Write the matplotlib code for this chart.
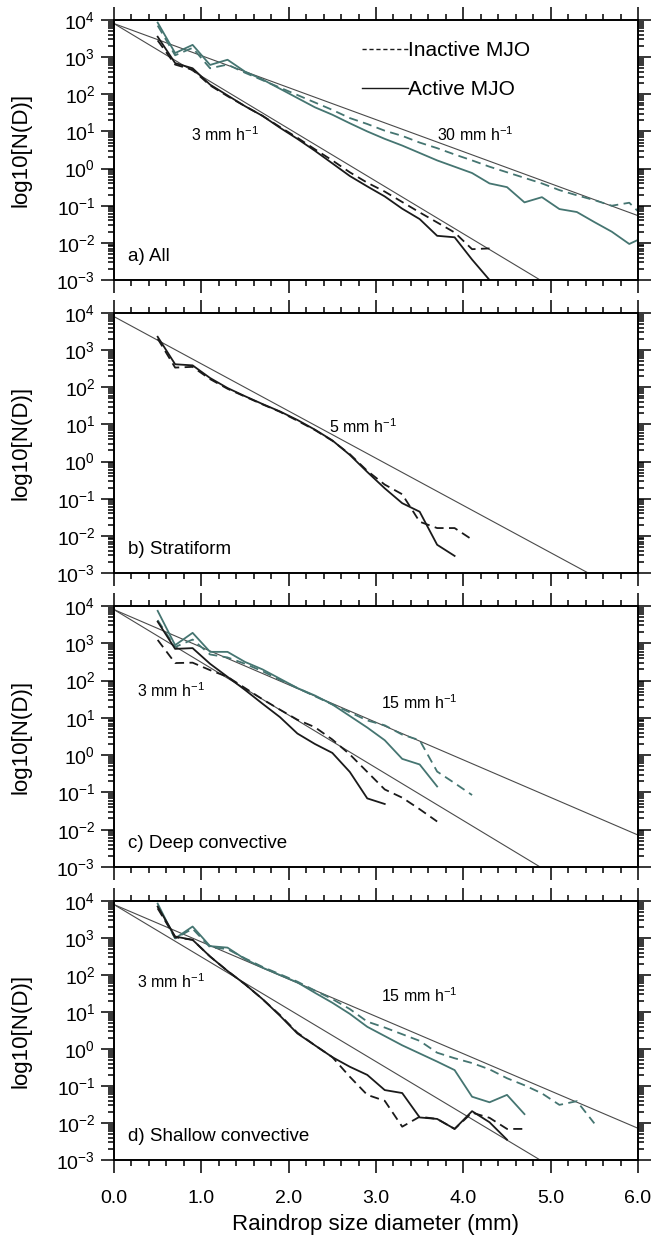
import numpy as np
import matplotlib
matplotlib.use('Agg')
import matplotlib.pyplot as plt
from matplotlib.ticker import LogLocator, MultipleLocator, FormatStrFormatter, NullFormatter

plt.rcParams['font.family'] = ['Liberation Sans', 'DejaVu Sans']
plt.rcParams['mathtext.fontset'] = 'custom'
plt.rcParams['mathtext.rm'] = 'Liberation Sans'
plt.rcParams['mathtext.it'] = 'Liberation Sans:italic'

# ---- data (log10 N(D)) ----
# a) All
a_heavy_x = [0.5, 0.7, 0.9, 1.1, 1.3, 1.5, 1.7, 1.9, 2.1, 2.3, 2.5, 2.7, 2.9, 3.1, 3.3, 3.5,
             3.7, 3.9, 4.1, 4.3, 4.5, 4.7, 4.9, 5.1, 5.3, 5.5, 5.7, 5.9, 6.0]
a_heavy_act = [3.93, 3.11, 3.33, 2.79, 2.93, 2.61, 2.40, 2.15, 1.90, 1.65, 1.45, 1.22, 1.00, 0.80,
               0.62, 0.42, 0.22, 0.05, -0.12, -0.40, -0.50, -0.91, -0.77, -1.09, -1.17, -1.44,
               -1.70, -2.03, -1.92]
a_heavy_ina = [3.85, 3.05, 3.25, 2.70, 2.80, 2.58, 2.38, 2.18, 1.98, 1.78, 1.58, 1.36, 1.20, 1.02,
               0.88, 0.70, 0.55, 0.38, 0.22, 0.05, -0.10, -0.25, -0.40, -0.58, -0.72, -0.85,
               -1.00, -0.92, -1.15]
a_light_x = [0.5, 0.7, 0.9, 1.1, 1.3, 1.5, 1.7, 1.9, 2.1, 2.3, 2.5, 2.7, 2.9, 3.1, 3.3, 3.5,
             3.7, 3.9, 4.1, 4.3]
a_light_act = [3.55, 2.84, 2.70, 2.26, 1.97, 1.68, 1.42, 1.10, 0.80, 0.48, 0.14, -0.20, -0.48,
               -0.75, -1.08, -1.36, -1.81, -1.85, -2.45, -3.0]
a_light_ina = [3.45, 2.80, 2.66, 2.24, 1.95, 1.68, 1.42, 1.12, 0.83, 0.52, 0.22, -0.10, -0.38,
               -0.62, -0.90, -1.18, -1.45, -1.72, -2.17, -2.15]

# b) Stratiform
b_act_x = [0.5, 0.7, 0.9, 1.1, 1.3, 1.5, 1.7, 1.9, 2.1, 2.3, 2.5, 2.7, 2.9, 3.1, 3.3, 3.5, 3.7, 3.9]
b_act = [3.36, 2.62, 2.59, 2.25, 1.98, 1.76, 1.55, 1.35, 1.12, 0.86, 0.57, 0.18, -0.28, -0.72,
         -1.12, -1.35, -2.24, -2.54]
b_ina_x = [0.5, 0.7, 0.9, 1.1, 1.3, 1.5, 1.7, 1.9, 2.1, 2.3, 2.5, 2.7, 2.9, 3.1, 3.3, 3.5, 3.7,
           3.9, 4.1]
b_ina = [3.31, 2.53, 2.55, 2.22, 1.96, 1.75, 1.54, 1.34, 1.10, 0.85, 0.56, 0.20, -0.25, -0.62,
         -0.88, -1.62, -1.79, -1.79, -2.10]

# c) Deep convective
c_heavy_act_x = [0.5, 0.7, 0.9, 1.1, 1.3, 1.5, 1.7, 1.9, 2.1, 2.3, 2.5, 2.7, 2.9, 3.1, 3.3, 3.5, 3.7]
c_heavy_act = [3.87, 2.95, 3.28, 2.77, 2.77, 2.50, 2.30, 2.05, 1.80, 1.60, 1.36, 1.05, 0.74,
               0.40, -0.10, -0.25, -0.84]
c_heavy_ina_x = [0.5, 0.7, 0.9, 1.1, 1.3, 1.5, 1.7, 1.9, 2.1, 2.3, 2.5, 2.7, 2.9, 3.1, 3.3, 3.5,
                 3.7, 3.9, 4.1]
c_heavy_ina = [3.62, 2.90, 3.10, 2.70, 2.62, 2.45, 2.25, 2.02, 1.80, 1.58, 1.36, 1.15, 0.93,
               0.80, 0.55, 0.40, -0.44, -0.75, -1.07]
c_light_act_x = [0.5, 0.7, 0.9, 1.1, 1.3, 1.5, 1.7, 1.9, 2.1, 2.3, 2.5, 2.7, 2.9, 3.1]
c_light_act = [3.58, 2.85, 2.87, 2.45, 2.10, 1.75, 1.38, 1.02, 0.58, 0.30, 0.06, -0.45, -1.16,
               -1.31]
c_light_ina_x = [0.5, 0.7, 0.9, 1.1, 1.3, 1.5, 1.7, 1.9, 2.1, 2.3, 2.5, 2.7, 2.9, 3.1, 3.3, 3.5, 3.7]
c_light_ina = [3.09, 2.47, 2.48, 2.28, 2.10, 1.80, 1.50, 1.22, 0.95, 0.75, 0.42, 0.02, -0.45,
               -0.92, -1.14, -1.45, -1.78]

# d) Shallow convective
d_heavy_act_x = [0.5, 0.7, 0.9, 1.1, 1.3, 1.5, 1.7, 1.9, 2.1, 2.3, 2.5, 2.7, 2.9, 3.1, 3.3, 3.5,
                 3.7, 3.9, 4.1, 4.3, 4.5, 4.7]
d_heavy_act = [3.93, 2.99, 3.31, 2.78, 2.74, 2.43, 2.20, 2.00, 1.80, 1.52, 1.25, 0.95, 0.60,
               0.35, 0.10, -0.12, -0.34, -0.57, -1.29, -1.44, -1.24, -1.76]
d_heavy_ina_x = [0.5, 0.7, 0.9, 1.1, 1.3, 1.5, 1.7, 1.9, 2.1, 2.3, 2.5, 2.7, 2.9, 3.1, 3.3, 3.5,
                 3.7, 3.9, 4.1, 4.3, 4.5, 4.7, 4.9, 5.1, 5.3, 5.5]
d_heavy_ina = [3.85, 2.99, 3.25, 2.75, 2.70, 2.45, 2.22, 2.02, 1.82, 1.58, 1.35, 1.08, 0.74,
               0.58, 0.40, 0.22, -0.10, -0.25, -0.38, -0.55, -0.79, -0.98, -1.20, -1.51,
               -1.41, -2.01]
d_light_act_x = [0.5, 0.7, 0.9, 1.1, 1.3, 1.5, 1.7, 1.9, 2.1, 2.3, 2.5, 2.7, 2.9, 3.1, 3.3, 3.5,
                 3.7, 3.9, 4.1, 4.3, 4.5]
d_light_act = [3.85, 3.04, 2.95, 2.50, 2.11, 1.75, 1.35, 0.90, 0.42, 0.10, -0.22, -0.48, -0.70,
               -1.11, -1.19, -1.85, -1.89, -2.16, -1.68, -1.98, -2.45]
d_light_ina_x = [0.5, 0.7, 0.9, 1.1, 1.3, 1.5, 1.7, 1.9, 2.1, 2.3, 2.5, 2.7, 2.9, 3.1, 3.3, 3.5,
                 3.7, 3.9, 4.1, 4.3, 4.5, 4.7]
d_light_ina = [3.80, 3.02, 2.95, 2.50, 2.11, 1.75, 1.35, 0.92, 0.44, 0.10, -0.22, -0.75, -1.24,
               -1.40, -2.10, -1.83, -1.89, -2.16, -1.72, -1.86, -2.16, -2.16]

# Marshall-Palmer reference lines (end points)
mp3_x, mp3_y = [0.0, 4.88], [8000.0, 1e-3]
mp5_x, mp5_y = [0.0, 5.43], [8000.0, 1e-3]
mp15_x, mp15_y = [0.0, 6.0], [8000.0, 7.2e-3]
mp30_x, mp30_y = [0.0, 6.0], [8000.0, 5.4e-2]

xticks = [0.0, 1.0, 2.0, 3.0, 4.0, 5.0, 6.0]
panel_titles = ['a) All', 'b) Stratiform', 'c) Deep convective', 'd) Shallow convective']

teal = '#457571'
blk = '#1a1a1a'
gry = '#4a4a4a'
dash = (0, (5, 3))
lw = 1.3

fig = plt.figure(figsize=(6.56, 12.49), dpi=100)
W, H = 656.0, 1249.0
left, right = 114.0, 638.0
tops = [20, 313, 606, 901]
bots = [280, 573, 867, 1160]
axes = []
for t, b in zip(tops, bots):
    ax = fig.add_axes([left / W, (H - b) / H, (right - left) / W, (b - t) / H])
    axes.append(ax)


def p(v):
    return 10.0 ** np.array(v)


def style(ax, title, bottom):
    ax.set_yscale('log')
    ax.set_xlim(0, 6)
    ax.set_ylim(1e-3, 1e4)
    ax.xaxis.set_major_locator(MultipleLocator(1.0))
    ax.xaxis.set_minor_locator(MultipleLocator(0.2))
    if bottom:
        ax.xaxis.set_major_formatter(FormatStrFormatter('%.1f'))
    else:
        # only the bottom panel carries x labels
        ax.xaxis.set_major_formatter(NullFormatter())
    ax.yaxis.set_major_locator(LogLocator(base=10, numticks=20))
    ax.yaxis.set_minor_locator(LogLocator(base=10, subs=np.arange(2, 10), numticks=20))
    ax.yaxis.set_minor_formatter(NullFormatter())
    ax.tick_params(which='both', direction='out', top=True, right=True, width=1.1)
    ax.tick_params(which='major', length=9.5, labelsize=14)
    ax.tick_params(which='minor', length=4.5)
    ax.tick_params(axis='x', labelbottom=bottom, pad=12)
    ax.tick_params(axis='y', pad=4)
    for s in ax.spines.values():
        s.set_linewidth(1.4)
    ax.set_ylabel('log10[N(D)]', fontsize=16)
    ax.yaxis.set_label_coords(-0.158, 0.5)
    ax.text(0.027, 0.09, title, transform=ax.transAxes, fontsize=13.5, va='center')


ax = axes[0]
ax.plot(mp3_x, mp3_y, color=gry, lw=0.8)
ax.plot(mp30_x, mp30_y, color=gry, lw=0.8)
ax.plot(a_heavy_x, p(a_heavy_ina), color=teal, lw=lw, linestyle=dash)
ax.plot(a_heavy_x, p(a_heavy_act), color=teal, lw=lw)
ax.plot(a_light_x, p(a_light_ina), color=blk, lw=lw, linestyle=dash)
ax.plot(a_light_x, p(a_light_act), color=blk, lw=lw)
ax.text(1.27, 10 ** 0.92, '3 mm h$^{-1}$', fontsize=11.5, ha='center', va='center')
ax.text(4.14, 10 ** 0.92, '30 mm h$^{-1}$', fontsize=11.5, ha='center', va='center')
h1, = ax.plot([], [], color=blk, lw=1.0, linestyle=(0, (3, 2)))
h2, = ax.plot([], [], color=blk, lw=1.0)
ax.legend([h1, h2], ['Inactive MJO', 'Active MJO'], loc='upper left',
          bbox_to_anchor=(0.473, 0.918), frameon=False, fontsize=15,
          handlelength=2.2, handletextpad=0.0, labelspacing=0.95, borderpad=0,
          borderaxespad=0)
style(ax, panel_titles[0], False)

ax = axes[1]
ax.plot(mp5_x, mp5_y, color=gry, lw=0.8)
ax.plot(b_ina_x, p(b_ina), color=blk, lw=lw, linestyle=dash)
ax.plot(b_act_x, p(b_act), color=blk, lw=lw)
ax.text(2.85, 10 ** 0.95, '5 mm h$^{-1}$', fontsize=11.5, ha='center', va='center')
style(ax, panel_titles[1], False)

ax = axes[2]
ax.plot(mp3_x, mp3_y, color=gry, lw=0.8)
ax.plot(mp15_x, mp15_y, color=gry, lw=0.8)
ax.plot(c_heavy_ina_x, p(c_heavy_ina), color=teal, lw=lw, linestyle=dash)
ax.plot(c_heavy_act_x, p(c_heavy_act), color=teal, lw=lw)
ax.plot(c_light_ina_x, p(c_light_ina), color=blk, lw=lw, linestyle=dash)
ax.plot(c_light_act_x, p(c_light_act), color=blk, lw=lw)
ax.text(0.65, 10 ** 1.74, '3 mm h$^{-1}$', fontsize=11.5, ha='center', va='center')
ax.text(3.5, 10 ** 1.40, '15 mm h$^{-1}$', fontsize=11.5, ha='center', va='center')
style(ax, panel_titles[2], False)

ax = axes[3]
ax.plot(mp3_x, mp3_y, color=gry, lw=0.8)
ax.plot(mp15_x, mp15_y, color=gry, lw=0.8)
ax.plot(d_heavy_ina_x, p(d_heavy_ina), color=teal, lw=lw, linestyle=dash)
ax.plot(d_heavy_act_x, p(d_heavy_act), color=teal, lw=lw)
ax.plot(d_light_ina_x, p(d_light_ina), color=blk, lw=lw, linestyle=dash)
ax.plot(d_light_act_x, p(d_light_act), color=blk, lw=lw)
ax.text(0.65, 10 ** 1.82, '3 mm h$^{-1}$', fontsize=11.5, ha='center', va='center')
ax.text(3.5, 10 ** 1.43, '15 mm h$^{-1}$', fontsize=11.5, ha='center', va='center')
style(ax, panel_titles[3], True)
ax.set_xticks(xticks)
ax.set_xlabel('Raindrop size diameter (mm)', fontsize=16, labelpad=5)

fig.savefig('out.png', dpi=100)
